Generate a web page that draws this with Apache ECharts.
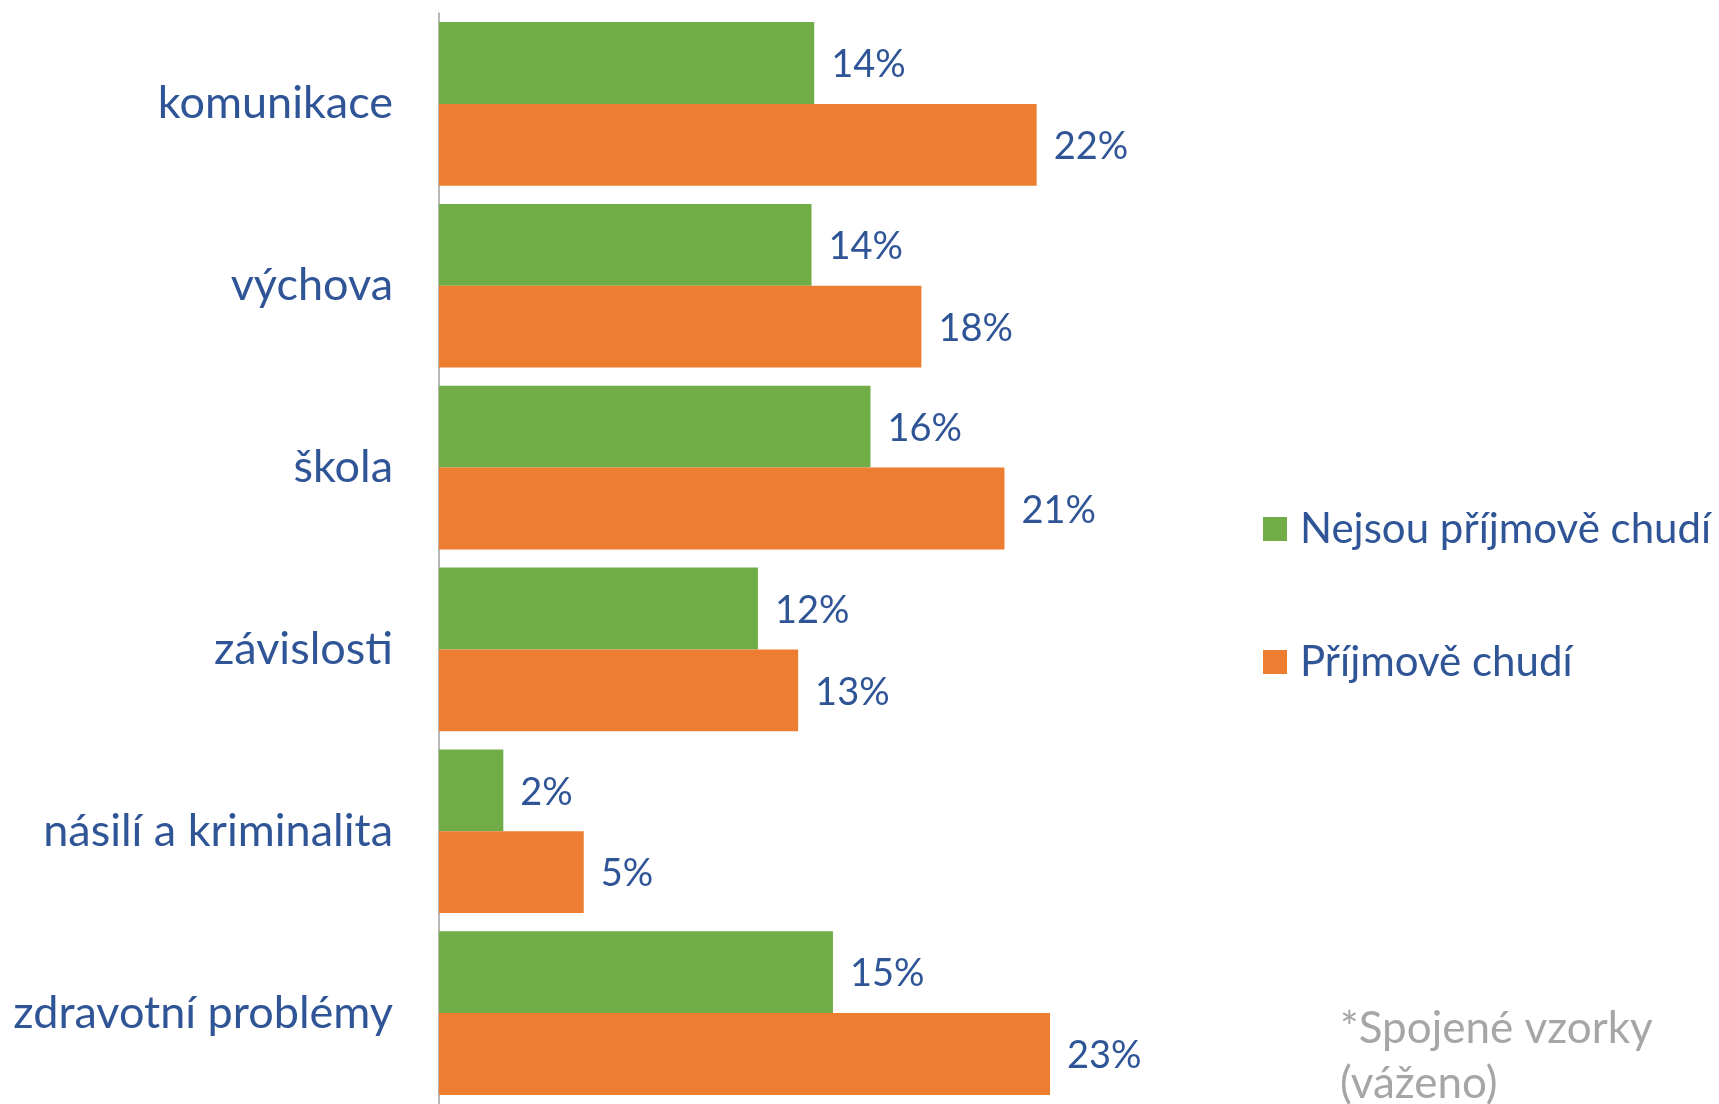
<!DOCTYPE html>
<html>
<head>
<meta charset="utf-8">
<script src="https://cdn.jsdelivr.net/npm/echarts@6/dist/echarts.min.js"></script>
<style>
	html, body { margin: 0; padding: 0; background: #fff; }
	#chart { width: 1719px; height: 1104px; }
</style>
</head>
<body>
<div id="chart"></div>
<script>
	// kategorie (shora dolů)
	const categories = ['komunikace', 'výchova', 'škola', 'závislosti', 'násilí a kriminalita', 'zdravotní problémy'];
	const seriesNames = ['Nejsou příjmově chudí', 'Příjmově chudí'];
	// hodnoty v %
	const notPoor = [14.0, 13.9, 16.1, 11.9, 2.4, 14.7];
	const poor = [22.3, 18.0, 21.1, 13.4, 5.4, 22.8];
	const footnote = ['*Spojené vzorky', '(váženo)'];

	const textBlue = '#2F5597';
	const font = 'Lato';

	const chart = echarts.init(document.getElementById('chart'));

	const barLabel = {
		show: true,
		position: 'right',
		distance: 17,
		offset: [0, 2],
		color: textBlue,
		fontFamily: font,
		fontSize: 38,
		formatter: p => Math.round(p.value) + '%'
	};

	const option = {
		animation: false,
		color: ['#70AD47', '#ED7D31'],
		grid: {
			left: 439,
			top: 13,
			bottom: 0,
			right: 208
		},
		xAxis: {
			type: 'value',
			min: 0,
			max: 40,
			show: false
		},
		yAxis: {
			type: 'category',
			data: categories,
			inverse: true,
			axisLine: {
				lineStyle: { color: '#A0A0A0', width: 1.5 }
			},
			axisTick: {
				length: 12,
				lineStyle: { color: '#A0A0A0', width: 1.5 }
			},
			axisLabel: {
				margin: 46,
				color: textBlue,
				fontFamily: font,
				fontSize: 45
			}
		},
		legend: {
			orient: 'vertical',
			left: 1258,
			top: 499,
			itemWidth: 24,
			itemHeight: 24,
			itemGap: 83,
			icon: 'rect',
			textStyle: {
				color: textBlue,
				fontFamily: font,
				fontSize: 42,
				lineHeight: 50,
				padding: [0, 0, 0, 8]
			},
			data: seriesNames
		},
		graphic: [{
			type: 'text',
			left: 1340,
			top: 1001,
			style: {
				text: footnote.join('\n'),
				fill: '#A6A6A6',
				font: '44px ' + font,
				lineHeight: 55
			}
		}],
		series: [{
			name: seriesNames[0],
			type: 'bar',
			data: notPoor,
			barGap: 0,
			barCategoryGap: '10%',
			label: barLabel
		}, {
			name: seriesNames[1],
			type: 'bar',
			data: poor,
			barGap: 0,
			barCategoryGap: '10%',
			label: barLabel
		}]
	};
	chart.setOption(option);
</script>
</body>
</html>
